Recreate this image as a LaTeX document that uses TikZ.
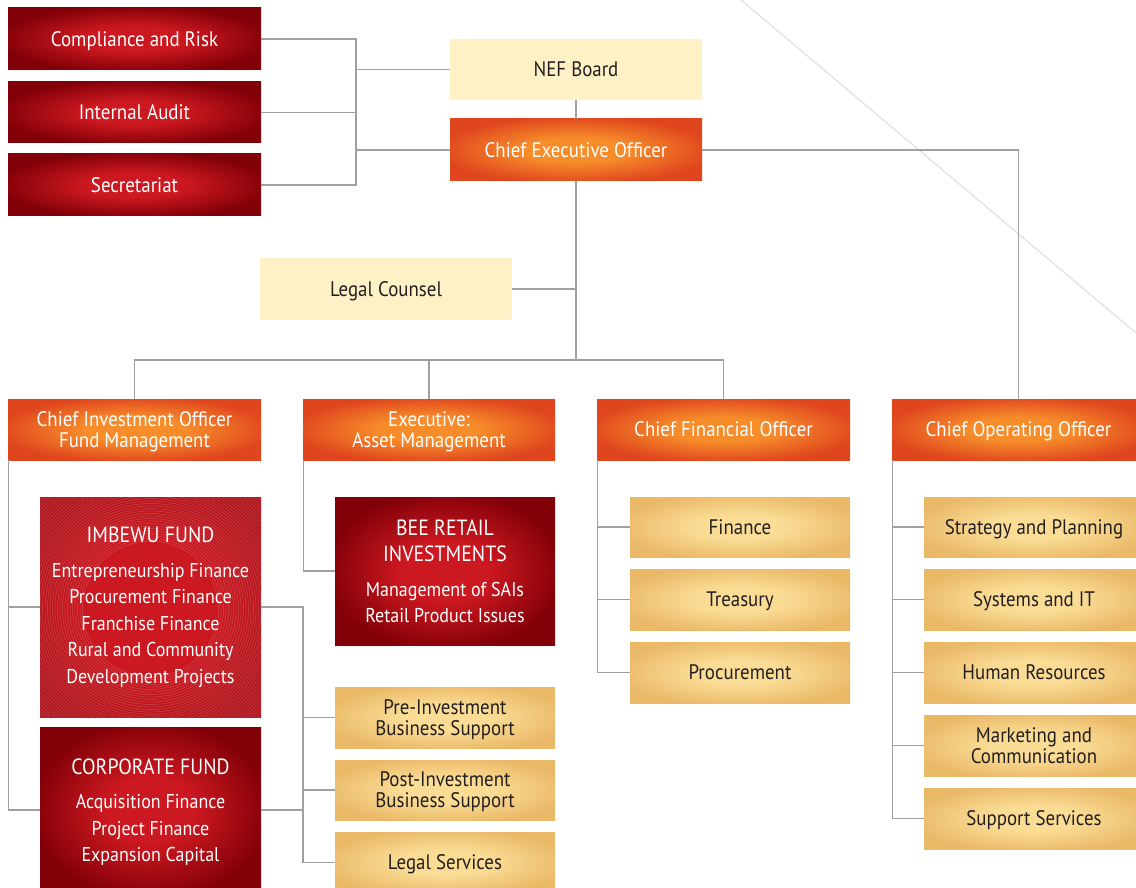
\documentclass[tikz,border=0pt]{standalone}
\usepackage{fontspec}
\setmainfont{PT Sans}[FakeStretch=0.9]
\usetikzlibrary{calc}
\definecolor{redin}{HTML}{CC1820}
\definecolor{redout}{HTML}{820008}
\definecolor{orin}{HTML}{F68C2A}
\definecolor{orout}{HTML}{E0461E}
\definecolor{tanin}{HTML}{FADC95}
\definecolor{tanout}{HTML}{EAB968}
\definecolor{ylw}{HTML}{FFF1C6}
\definecolor{txt}{HTML}{231F20}
\definecolor{linegray}{HTML}{A0A0A0}
\definecolor{diag}{HTML}{DDDDDD}
\definecolor{imbout}{HTML}{B0141C}
\pgfdeclareradialshading{redsh}{\pgfpoint{0bp}{0bp}}{color(0bp)=(redin); color(10bp)=(redin); color(27bp)=(redout); color(50bp)=(redout)}
\pgfdeclareradialshading{orsh}{\pgfpoint{0bp}{0bp}}{color(0bp)=(orin); color(10bp)=(orin); color(27bp)=(orout); color(50bp)=(orout)}
\pgfdeclareradialshading{tansh}{\pgfpoint{0bp}{0bp}}{color(0bp)=(tanin); color(10bp)=(tanin); color(28bp)=(tanout); color(50bp)=(tanout)}
\pgfdeclareradialshading{imbsh}{\pgfpoint{0bp}{0bp}}{color(0bp)=(redin); color(14bp)=(redin); color(30bp)=(imbout); color(50bp)=(imbout)}
\newcommand{\hd}{\fontsize{22}{26.5}\selectfont}
\begin{document}
\begin{tikzpicture}[x=1pt,y=-1pt,
  box/.style={rectangle, inner sep=0pt, align=center, text depth=0pt, font=\fontsize{21}{21}\selectfont},
  redbox/.style={box, shading=redsh, text=white},
  orbox/.style={box, shading=orsh, text=white},
  tanbox/.style={box, shading=tansh, text=txt},
  ylbox/.style={box, fill=ylw, text=txt},
  conn/.style={draw=linegray, line width=1.1pt},
  bigbox/.style={font=\fontsize{20}{26.5}\selectfont}]
\clip (0,0) rectangle (1136,888);
\fill[white] (0,0) rectangle (1136,888);
\draw[diag, line width=1pt] (741,0) -- (1136,333);
% top left
\node[redbox, minimum width=253pt, minimum height=62pt] (cr) at (134.5,39) {Compliance and Risk};
\node[redbox, minimum width=253pt, minimum height=61pt] (ia) at (134.5,112.5) {Internal Audit};
\node[redbox, minimum width=253pt, minimum height=62pt] (sec) at (134.5,185) {Secretariat};
\node[ylbox, minimum width=252pt, minimum height=61pt] (nef) at (576,69.5) {NEF Board};
\node[orbox, minimum width=252pt, minimum height=62pt] (ceo) at (576,150) {Chief Executive Officer};
\node[ylbox, minimum width=252pt, minimum height=62pt] (lc) at (386,289) {Legal Counsel};
% second level
\node[orbox, minimum width=253pt, minimum height=61pt] (cio) at (134.5,429.5) {Chief Investment Officer\\Fund Management};
\node[orbox, minimum width=252pt, minimum height=61pt] (exe) at (429,429.5) {Executive:\\Asset Management};
\node[orbox, minimum width=253pt, minimum height=61pt] (cfo) at (723.5,429.5) {Chief Financial Officer};
\node[orbox, minimum width=253pt, minimum height=61pt] (coo) at (1018.5,429.5) {Chief Operating Officer};
% fund boxes
\node[box, shading=imbsh, minimum width=221pt, minimum height=220pt] (imb) at (150.5,607) {};
\begin{scope}
\clip (imb.south west) rectangle (imb.north east);
\foreach \r in {68,70.5,...,200} {\draw[white, opacity=0.15, line width=0.8pt] (150.5,609) circle (\r);}
\end{scope}
\node[box, bigbox, text=white] (imbtxt) at ([yshift=2pt]imb.center) {{\hd IMBEWU FUND}\\[8pt]Entrepreneurship Finance\\Procurement Finance\\Franchise Finance\\Rural and Community\\Development Projects};
\node[redbox, bigbox, minimum width=221pt, minimum height=166pt] (corp) at (150.5,810) {{\hd CORPORATE FUND}\\[8pt]Acquisition Finance\\Project Finance\\Expansion Capital};
\node[redbox, minimum width=220pt, minimum height=148pt, font=\fontsize{20}{25.5}\selectfont] (bee) at (445,571) {{\hd BEE RETAIL}\\{\hd INVESTMENTS}\\[10pt]Management of SAIs\\Retail Product Issues};
\node[tanbox, minimum width=220pt, minimum height=61pt] (pre) at (445,717.5) {Pre-Investment\\Business Support};
\node[tanbox, minimum width=220pt, minimum height=60pt] (post) at (445,790) {Post-Investment\\Business Support};
\node[tanbox, minimum width=220pt, minimum height=61pt] (ls) at (445,862.5) {Legal Services};
% CFO
\node[tanbox, minimum width=220pt, minimum height=60pt] (fin) at (740,527) {Finance};
\node[tanbox, minimum width=220pt, minimum height=61pt] (tre) at (740,599.5) {Treasury};
\node[tanbox, minimum width=220pt, minimum height=61pt] (proc) at (740,672.5) {Procurement};
% COO
\node[tanbox, minimum width=220pt, minimum height=60pt] (str) at (1034,527) {Strategy and Planning};
\node[tanbox, minimum width=220pt, minimum height=61pt] (sys) at (1034,599.5) {Systems and IT};
\node[tanbox, minimum width=220pt, minimum height=61pt] (hr) at (1034,672.5) {Human Resources};
\node[tanbox, minimum width=220pt, minimum height=61pt] (mkt) at (1034,745.5) {Marketing and\\Communication};
\node[tanbox, minimum width=220pt, minimum height=61pt] (sup) at (1034,818.5) {Support Services};
% connectors
\coordinate (lb) at (356,0);
\draw[conn] (cr.east) -- (cr.east -| lb) -- (sec.east -| lb) -- (sec.east);
\draw[conn] (ia.east) -- (ia.east -| lb);
\draw[conn] (nef.west) -- (nef.west -| lb);
\draw[conn] (ceo.west) -- (ceo.west -| lb);
\draw[conn] (nef.south) -- (ceo.north);
\coordinate (bus) at (576,360);
\draw[conn] (ceo.south) -- (bus);
\draw[conn] (lc.east) -- (lc.east -| bus);
\draw[conn] (cio.north) |- (bus);
\draw[conn] (exe.north) |- (bus);
\draw[conn] (cfo.north) |- (bus);
\draw[conn] (ceo.east) -| (coo.north);
\coordinate (cioL) at ([xshift=1pt]cio.south west);
\draw[conn] (cioL) |- (corp.west);
\draw[conn] (imb.west) -- (imb.west -| cioL);
\coordinate (fx) at (303,0);
\draw[conn] (imb.east) -| (fx |- ls.west) -- (ls.west);
\draw[conn] (corp.east) -- (corp.east -| fx);
\draw[conn] (pre.west) -- (pre.west -| fx);
\draw[conn] (post.west) -- (post.west -| fx);
\draw[conn] ([xshift=0.5pt]exe.south west) |- (bee.west);
\coordinate (cfoL) at ([xshift=1pt]cfo.south west);
\draw[conn] (cfoL) |- (proc.west);
\draw[conn] (fin.west) -- (fin.west -| cfoL);
\draw[conn] (tre.west) -- (tre.west -| cfoL);
\coordinate (cooL) at ([xshift=1pt]coo.south west);
\draw[conn] (cooL) |- (sup.west);
\draw[conn] (str.west) -- (str.west -| cooL);
\draw[conn] (sys.west) -- (sys.west -| cooL);
\draw[conn] (hr.west) -- (hr.west -| cooL);
\draw[conn] (mkt.west) -- (mkt.west -| cooL);
\end{tikzpicture}
\end{document}
